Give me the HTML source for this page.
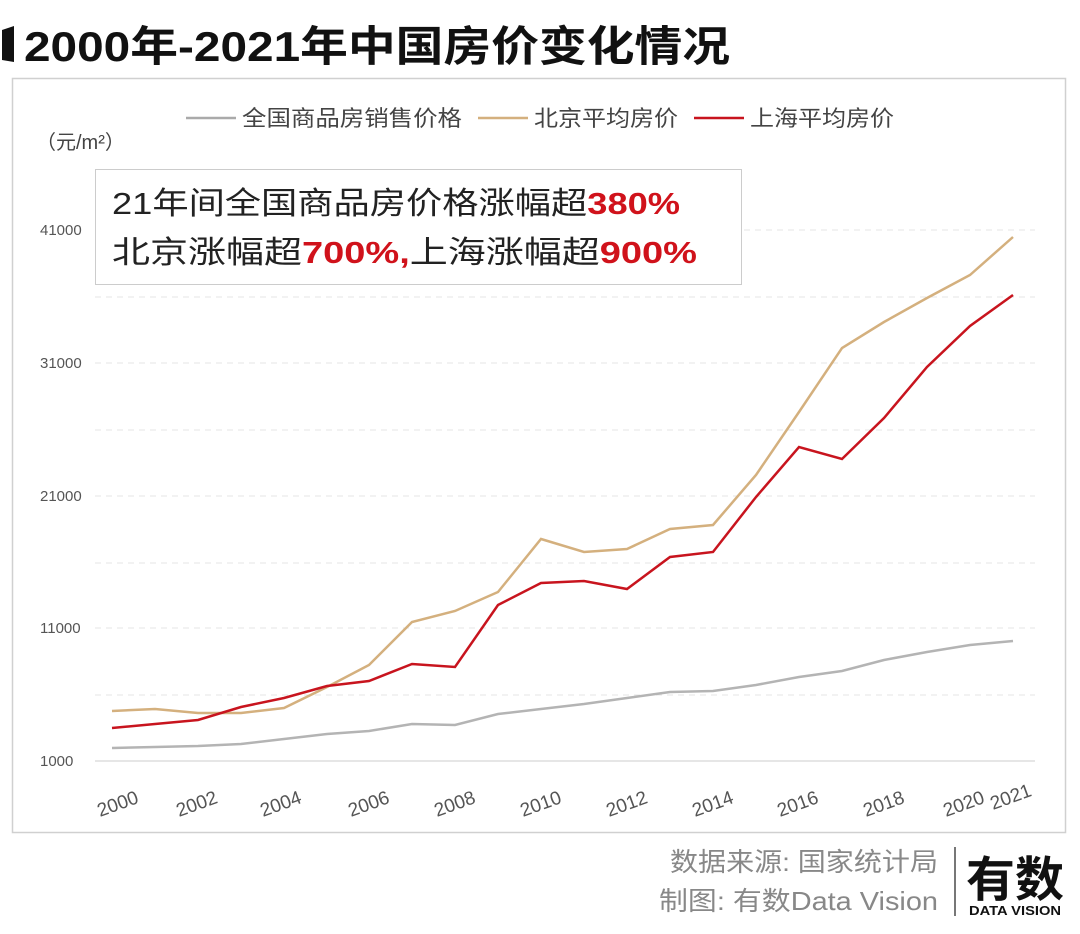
<!DOCTYPE html>
<html><head><meta charset="utf-8"><style>
body{margin:0;background:#fff;}
svg{display:block;font-family:"Liberation Sans","Noto Sans CJK SC",sans-serif;}
</style></head><body>
<svg width="1080" height="934" viewBox="0 0 1080 934" xmlns="http://www.w3.org/2000/svg">
<rect width="1080" height="934" fill="#fff"/>
<path d="M2 30 L14 26 L14 62 L2 60 Z" fill="#111"/>
<text x="24" y="61" font-size="42" font-weight="bold" fill="#111" textLength="706" lengthAdjust="spacingAndGlyphs">2000年-2021年中国房价变化情况</text>
<rect x="12.5" y="78.5" width="1053" height="754" fill="none" stroke="#d0d0d0" stroke-width="1.5"/>
<g font-size="22" fill="#444">
<line x1="186" y1="118" x2="236" y2="118" stroke="#aaa" stroke-width="2.5"/>
<text x="242" y="126" textLength="220" lengthAdjust="spacingAndGlyphs">全国商品房销售价格</text>
<line x1="478" y1="118" x2="528" y2="118" stroke="#d4b07e" stroke-width="2.5"/>
<text x="534" y="126" textLength="144" lengthAdjust="spacingAndGlyphs">北京平均房价</text>
<line x1="694" y1="118" x2="744" y2="118" stroke="#c8141e" stroke-width="2.5"/>
<text x="750" y="126" textLength="144" lengthAdjust="spacingAndGlyphs">上海平均房价</text>
</g>
<text x="36" y="149" font-size="20" fill="#444">（元/m²）</text>
<g stroke="#e4e4e4" stroke-width="1" stroke-dasharray="6,5">
<line x1="95" y1="230" x2="1035" y2="230"/><line x1="95" y1="297" x2="1035" y2="297"/>
<line x1="95" y1="363" x2="1035" y2="363"/><line x1="95" y1="430" x2="1035" y2="430"/>
<line x1="95" y1="496" x2="1035" y2="496"/><line x1="95" y1="563" x2="1035" y2="563"/>
<line x1="95" y1="628" x2="1035" y2="628"/><line x1="95" y1="695" x2="1035" y2="695"/>
</g>
<line x1="95" y1="761" x2="1035" y2="761" stroke="#ccc" stroke-width="1"/>
<g font-size="15" fill="#555">
<text x="40" y="235">41000</text><text x="40" y="368">31000</text>
<text x="40" y="501">21000</text><text x="40" y="633">11000</text>
<text x="40" y="766">1000</text>
</g>
<g font-size="19" fill="#555">
<text transform="translate(100,817) rotate(-20)">2000</text>
<text transform="translate(179,817) rotate(-20)">2002</text>
<text transform="translate(263,817) rotate(-20)">2004</text>
<text transform="translate(351,817) rotate(-20)">2006</text>
<text transform="translate(437,817) rotate(-20)">2008</text>
<text transform="translate(523,817) rotate(-20)">2010</text>
<text transform="translate(609,817) rotate(-20)">2012</text>
<text transform="translate(695,817) rotate(-20)">2014</text>
<text transform="translate(780,817) rotate(-20)">2016</text>
<text transform="translate(866,817) rotate(-20)">2018</text>
<text transform="translate(946,817) rotate(-20)">2020</text>
<text transform="translate(993,810) rotate(-20)">2021</text>
</g>
<polyline fill="none" stroke="#b4b4b4" stroke-width="2.5" points="112,748 155,747 198,746 241,744 284,739 327,734 369,731 412,724 455,725 498,714 541,709 584,704 627,698 670,692 713,691 756,685 799,677 842,671 884,660 927,652 970,645 1013,641"/>
<polyline fill="none" stroke="#d4b07e" stroke-width="2.5" points="112,711 155,709 198,713 241,713 284,708 327,687 369,665 412,622 455,611 498,592 541,539 584,552 627,549 670,529 713,525 756,475 799,412 842,348 884,322 927,298 970,275 1013,237"/>
<polyline fill="none" stroke="#c8141e" stroke-width="2.5" points="112,728 155,724 198,720 241,707 284,698 327,686 369,681 412,664 455,667 498,605 541,583 584,581 627,589 670,557 713,552 756,497 799,447 842,459 884,418 927,367 970,326 1013,295"/>
<rect x="95.5" y="169.5" width="646" height="115" fill="#fff" stroke="#ccc" stroke-width="1"/>
<text x="112" y="214" font-size="31" fill="#222" textLength="568" lengthAdjust="spacingAndGlyphs">21年间全国商品房价格涨幅超<tspan fill="#d0121b" font-weight="bold">380%</tspan></text>
<text x="112" y="263" font-size="31" fill="#222" textLength="585" lengthAdjust="spacingAndGlyphs">北京涨幅超<tspan fill="#d0121b" font-weight="bold">700%,</tspan>上海涨幅超<tspan fill="#d0121b" font-weight="bold">900%</tspan></text>
<g font-size="26" fill="#888">
<text x="670" y="871" textLength="268" lengthAdjust="spacingAndGlyphs">数据来源: 国家统计局</text>
<text x="659" y="910" textLength="279" lengthAdjust="spacingAndGlyphs">制图: 有数Data Vision</text>
</g>
<line x1="955" y1="847" x2="955" y2="916" stroke="#777" stroke-width="2"/>
<text x="966" y="896" font-size="48" font-weight="bold" fill="#111" textLength="98" lengthAdjust="spacingAndGlyphs">有数</text>
<text x="969" y="915" font-size="13" font-weight="bold" fill="#111" textLength="92" lengthAdjust="spacingAndGlyphs">DATA VISION</text>
</svg>
</body></html>
